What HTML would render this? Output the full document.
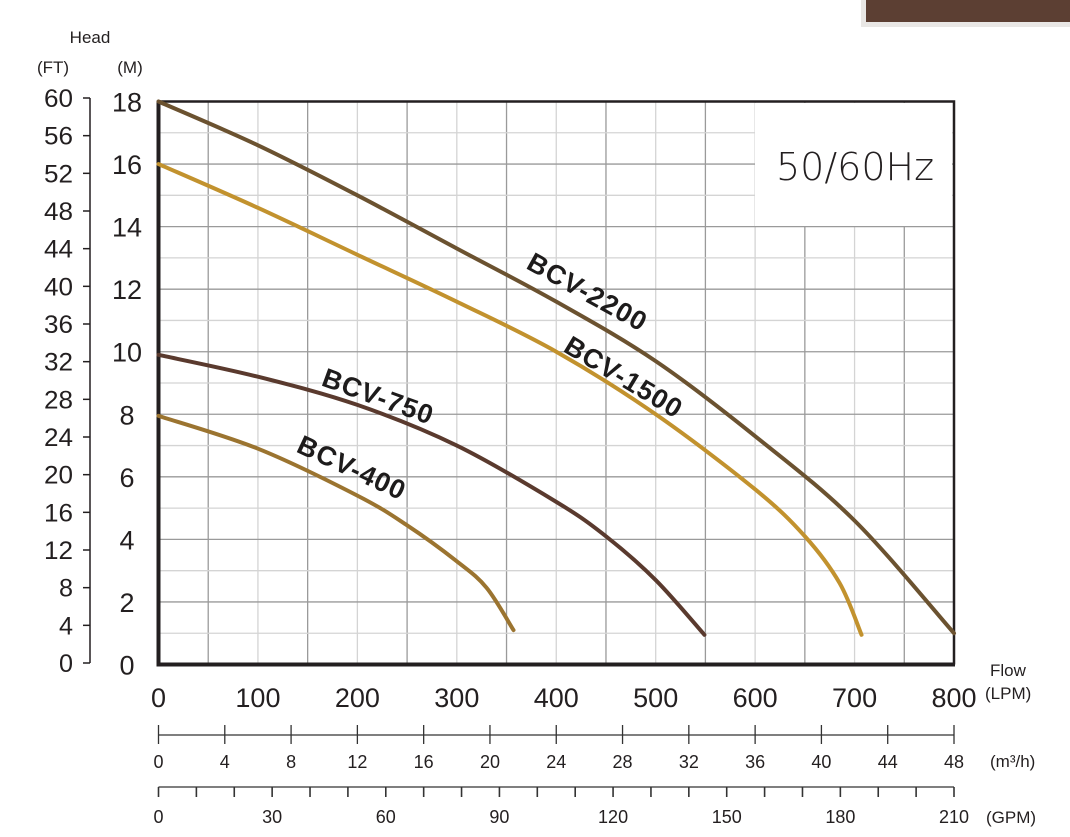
<!DOCTYPE html>
<html><head><meta charset="utf-8"><style>
html,body{margin:0;padding:0;background:#fff;}
svg{display:block;font-family:"Liberation Sans",sans-serif;}
</style></head><body>
<svg id="c" width="1070" height="837" viewBox="0 0 1070 837"></svg>
<script>
const flowTicks=[0,100,200,300,400,500,600,700,800];
const m3hTicks=[0,4,8,12,16,20,24,28,32,36,40,44,48];
const gpmTicks=[0,30,60,90,120,150,180,210];
const mTicks=[0,2,4,6,8,10,12,14,16,18];
const ftTicks=[0,4,8,12,16,20,24,28,32,36,40,44,48,52,56,60];
const s2200Flow=[0,100,200,300,400,500,600,700,800];
const s2200Head=[18,16.6,15.0,13.3,11.6,9.7,7.3,4.6,1.0];
const s1500Flow=[0,100,200,300,400,500,600,650,685,707];
const s1500Head=[16,14.6,13.1,11.6,10.0,8.0,5.6,4.1,2.6,0.95];
const s750Flow=[0,100,200,300,400,450,500,549];
const s750Head=[9.9,9.2,8.3,7.0,5.2,4.1,2.7,0.95];
const s400Flow=[0,100,200,250,300,330,357];
const s400Head=[7.95,6.9,5.4,4.45,3.3,2.45,1.1];

const NS="http://www.w3.org/2000/svg",svg=document.getElementById('c');
const X0=158.5,X1=954,Y0=664.5,Y18=101.5;
const xs=v=>X0+(X1-X0)*v/800, ys=v=>Y0-(Y0-Y18)*v/18;
const ftY=v=>663-(663-98)*v/60;
function el(t,a,txt){const e=document.createElementNS(NS,t);for(const k in a)e.setAttribute(k,a[k]);if(txt!==undefined)e.textContent=txt;svg.appendChild(e);return e;}

let e=el('rect',{x:861,y:0,width:209,height:27,fill:'#e9e7e5'});

e=el('rect',{x:866,y:0,width:204,height:22,fill:'#5c3f33'});


for(let v=50;v<800;v+=50){const odd=(v/50)%2===1;
 e=el('line',{x1:xs(v),x2:xs(v),y1:Y18,y2:Y0,stroke:odd?'#9a9a9a':'#d4d4d4','stroke-width':1.3});
 }
for(let v=1;v<18;v++){
 e=el('line',{x1:X0,x2:X1,y1:ys(v),y2:ys(v),stroke:v%2===0?'#9a9a9a':'#d4d4d4','stroke-width':1.3});
 }
e=el('rect',{x:755,y:103,width:197,height:123,fill:'#fff'});

e=el('text',{x:855,y:180,'font-size':38,'text-anchor':'middle',fill:'#231f20','font-family':'DejaVu Sans, sans-serif','font-weight':'200'},'50/60Hz');


e=el('path',{d:`M${X0} ${Y18}H${X1}V${Y0}`,fill:'none',stroke:'#231f20','stroke-width':2.5});

e=el('line',{x1:X0,x2:X0,y1:Y18-1,y2:Y0+2,stroke:'#231f20','stroke-width':4});

e=el('line',{x1:X0-2,x2:X1+1,y1:Y0,y2:Y0,stroke:'#231f20','stroke-width':4});


function series(fl,hd,col,name){
 let d='';fl.forEach((f,i)=>{const x=xs(f),y=ys(hd[i]);
  if(i===0)d+=`M${x} ${y}`;else{const px=xs(fl[i-1]),py=ys(hd[i-1]);
   const ppx=i>1?xs(fl[i-2]):px,ppy=i>1?ys(hd[i-2]):py;
   const nx=i<fl.length-1?xs(fl[i+1]):x,ny=i<fl.length-1?ys(hd[i+1]):y;
   d+=`C${px+(x-ppx)/6} ${py+(y-ppy)/6} ${x-(nx-px)/6} ${y-(ny-py)/6} ${x} ${y}`;}});
 const p=el('path',{d:d,fill:'none',stroke:col,'stroke-width':4,'stroke-linecap':'round','stroke-linejoin':'round'});
 }
series(s2200Flow,s2200Head,'#6b5230','series-bcv-2200');
series(s1500Flow,s1500Head,'#c2922e','series-bcv-1500');
series(s750Flow,s750Head,'#5a3a2e','series-bcv-750');
series(s400Flow,s400Head,'#9b7430','series-bcv-400');

function lbl(t,x,y,a,name){const g=el('text',{x:x,y:y,'font-size':27,'font-weight':'bold','text-anchor':'middle',fill:'#1d1b1b',transform:`rotate(${a} ${x} ${y})`,'letter-spacing':'1'},t);
 }
lbl('BCV-2200',583,300,29,'label-bcv-2200');
lbl('BCV-1500',619,385,31,'label-bcv-1500');
lbl('BCV-750',375,405,20,'label-bcv-750');
lbl('BCV-400',348,476,25,'label-bcv-400');

e=el('text',{x:90,y:43,'font-size':17,'text-anchor':'middle',fill:'#231f20'},'Head');

e=el('text',{x:53,y:73,'font-size':17,'text-anchor':'middle',fill:'#231f20'},'(FT)');

e=el('text',{x:130,y:73,'font-size':17,'text-anchor':'middle',fill:'#231f20'},'(M)');

e=el('line',{x1:90,x2:90,y1:ftY(60),y2:ftY(0),stroke:'#231f20','stroke-width':1.5});

ftTicks.forEach(v=>{const y=ftY(v);
 e=el('line',{x1:83,x2:90,y1:y,y2:y,stroke:'#231f20','stroke-width':1.5});
 
 e=el('text',{x:73,y:y+9,'font-size':25,'text-anchor':'end',fill:'#231f20',textLength:v>=10?29:14,lengthAdjust:'spacingAndGlyphs'},v);
 });
mTicks.forEach(v=>{
 e=el('text',{x:127,y:ys(v)+10,'font-size':27,'text-anchor':'middle',fill:'#231f20'},v);
 });

flowTicks.forEach(v=>{
 e=el('text',{x:xs(v),y:707,'font-size':27,'text-anchor':'middle',fill:'#231f20'},v);
 });
e=el('text',{x:990,y:676,'font-size':17,fill:'#231f20'},'Flow');

e=el('text',{x:985,y:699,'font-size':17,fill:'#231f20'},'(LPM)');


const m3x=v=>xs(v*800/48);
e=el('line',{x1:m3x(0),x2:m3x(48),y1:735,y2:735,stroke:'#333','stroke-width':1.2});

m3hTicks.forEach(v=>{const x=m3x(v);
 e=el('line',{x1:x,x2:x,y1:725,y2:744,stroke:'#333','stroke-width':1.3});
 
 e=el('text',{x:x,y:768,'font-size':18,'text-anchor':'middle',fill:'#231f20'},v);
 });
e=el('text',{x:990,y:767,'font-size':17,fill:'#231f20'},'(m³/h)');


const gx=v=>xs(v*800/210);
e=el('line',{x1:gx(0),x2:gx(210),y1:787,y2:787,stroke:'#333','stroke-width':1.2});

for(let v=0;v<=210;v+=10){
 e=el('line',{x1:gx(v),x2:gx(v),y1:787,y2:797,stroke:'#333','stroke-width':1.6});
 }
gpmTicks.forEach(v=>{
 e=el('text',{x:gx(v),y:823,'font-size':18,'text-anchor':'middle',fill:'#231f20'},v);
 });
e=el('text',{x:986,y:823,'font-size':17,fill:'#231f20'},'(GPM)');

</script>
</body></html>
